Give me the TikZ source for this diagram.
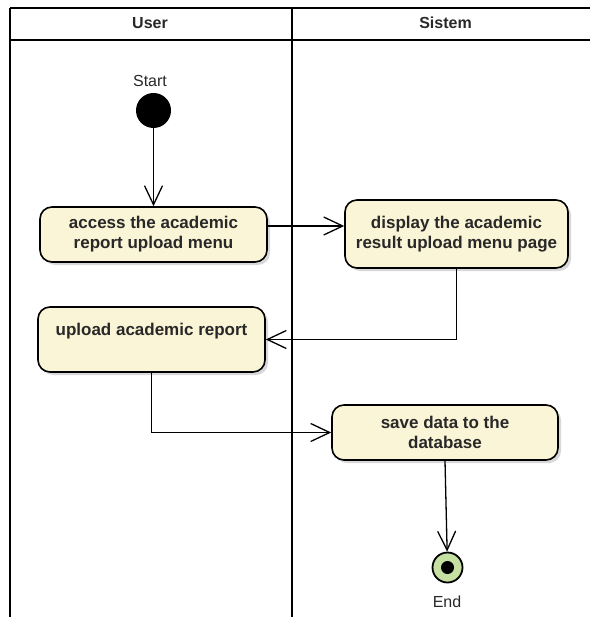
\documentclass[tikz,border=0pt]{standalone}
\usepackage{fontspec}
\setmainfont{Liberation Sans}
\usetikzlibrary{arrows.meta,shadows}
\definecolor{actfill}{RGB}{250,245,214}
\definecolor{endfill}{RGB}{197,224,160}
\definecolor{txt}{RGB}{40,40,40}
\begin{document}
\begin{tikzpicture}[x=1pt,y=-1pt,
  action/.style={draw=black, line width=1.6pt, rounded corners=12pt, fill=actfill,
    font=\fontsize{17}{20}\selectfont\bfseries, text=txt, align=center, inner sep=0pt,
    drop shadow={shadow xshift=3pt, shadow yshift=-3pt, fill=black!30, opacity=0.5}},
  flow/.style={line width=1.3pt, -{Straight Barb[length=19pt,width=18pt,line width=1.3pt]}},
  lane/.style={line width=2pt},
  lbl/.style={font=\fontsize{16}{20}\selectfont, text=txt, inner sep=0pt, anchor=base},
  hdr/.style={font=\fontsize{16}{20}\selectfont\bfseries, text=txt, inner sep=0pt, anchor=base}
]
\useasboundingbox (0,0) rectangle (589,617);
% swimlanes
\coordinate (tl) at (10,8);
\coordinate (tr) at (592,8);
\coordinate (hl) at (10,40);
\coordinate (hr) at (592,40);
\coordinate (bl) at (10,620);
\coordinate (dt) at (291.5,8);
\coordinate (db) at (291.5,620);
\draw[lane] (tl) -- (tr);
\draw[lane] (hl) -- (hr);
\draw[lane] (tl) -- (bl);
\draw[lane] (dt) -- (db);
\node[hdr] (huser) at (150,29) {User};
\node[hdr] (hsis) at (445.5,29) {Sistem};
% start
\node[circle, fill=black, minimum size=35pt, inner sep=0pt] (start) at (153.5,110.5) {};
\node[lbl] (startlbl) at (150,87) {Start};
% actions
\node[action, minimum width=227pt, minimum height=55pt] (a1) at (153.5,234.5)
  {access the academic\\report upload menu};
\node[action, minimum width=223pt, minimum height=68pt] (a2) at (456.5,234)
  {display the academic\\result upload menu page};
\node[action, minimum width=227pt, minimum height=65pt] (a3) at (151.5,339.5)
  {upload academic report\\\mbox{}};
\node[action, minimum width=226pt, minimum height=55pt] (a4) at (445,432.5)
  {save data to the\\database};
% end
\node[circle, draw=black, line width=1.8pt, fill=endfill, minimum size=30pt, inner sep=0pt] (end) at (447.5,567.5) {};
\node[circle, fill=black, minimum size=13pt, inner sep=0pt] (endin) at (end.center) {};
\node[lbl] (endlbl) at (447,607) {End};
% flows
\draw[flow] (start) -- (a1);
\draw[flow] (a1.east |- 0,226) -- (a2.west |- 0,226);
\draw[flow] (a2.south) |- (a3.east);
\draw[flow] (a3.south) |- (a4.west);
\draw[flow] (a4.south) -- (end);
\end{tikzpicture}
\end{document}
